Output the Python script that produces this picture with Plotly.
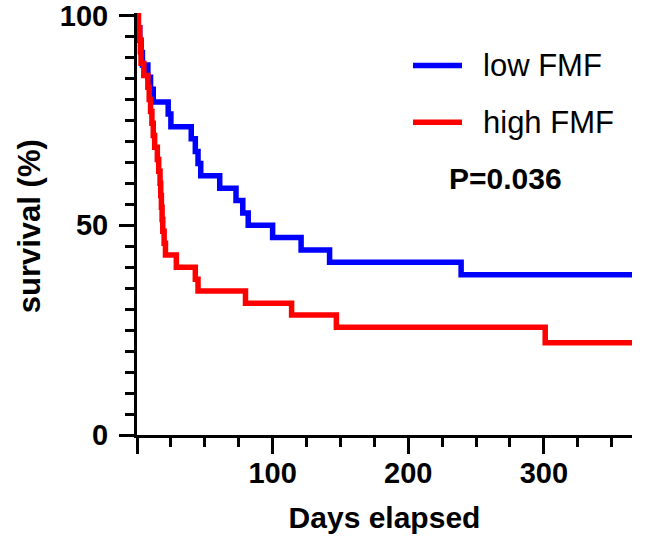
import plotly.graph_objects as go

# ---- data ----
days_low = [1, 2, 3, 4, 8, 10, 12, 23, 25, 40, 43, 45, 47, 61, 73, 78, 82, 100, 121, 142, 239]
surv_low = [97.1, 94.1, 91.2, 88.2, 85.3, 82.4, 79.4, 76.5, 73.5, 70.6, 67.6, 64.7, 61.8,
            58.8, 55.9, 52.9, 50.0, 47.1, 44.1, 41.2, 38.2]

days_high = [1, 2, 2.5, 3, 5, 8, 9, 10, 11, 12, 13, 15, 16, 17, 17.5, 18, 18.5, 19, 20, 21,
             29, 43, 45, 80, 114, 147, 301]
surv_high = [97.1, 94.3, 91.4, 88.6, 85.7, 82.9, 80.0, 77.1, 74.3, 71.4, 68.6, 65.7, 62.9,
             60.0, 57.1, 54.3, 51.4, 48.6, 45.7, 42.9, 40.0, 37.1, 34.3, 31.4, 28.6, 25.7, 22.0]

follow_up_end = 365
series_names = ["low FMF", "high FMF"]
p_text = "P=0.036"
x_title = "Days elapsed"
y_title = "survival (%)"
x_tickvals = [0, 100, 200, 300]
x_ticktext = ["", "100", "200", "300"]
y_tickvals = [0, 50, 100]

# ---- layout geometry (page body margin removed via post_script) ----
W, H = 645, 548
L, R, T, B = 137, 13, 12.5, 113
PW, PH = W - L - R, H - T - B
X0_PX, Y0_PX = L, H - B


def px_x(X):
    return (X - X0_PX) / PW


def px_y(Y):
    return (Y0_PX - Y) / PH


FONT = "Liberation Sans, Arial, Helvetica, sans-serif"
BLUE = "#0000FF"
RED = "#FF0000"

fig = go.Figure()

for name, days, surv, col in [
    (series_names[0], days_low, surv_low, BLUE),
    (series_names[1], days_high, surv_high, RED),
]:
    xs = [0] + days + [follow_up_end]
    ys = [100] + surv + [surv[-1]]
    fig.add_trace(go.Scatter(
        x=xs, y=ys, mode="lines", name=name,
        line=dict(color=col, width=5.5, shape="hv"),
        showlegend=False,
    ))

axis_common = dict(
    showgrid=False, zeroline=False, showline=True, linecolor="black", linewidth=3,
    ticks="outside", tickcolor="black", tickwidth=3, automargin=False,
    ticklabeloverflow="allow",
    tickfont=dict(family=FONT, size=29, color="black", weight="bold"),
)

fig.update_xaxes(
    range=[0, follow_up_end], tickmode="array", tickvals=x_tickvals, ticktext=x_ticktext,
    ticklen=16, ticklabelstandoff=-6,
    minor=dict(dtick=25, tick0=0, ticks="outside", ticklen=9, tickwidth=3, tickcolor="black"),
    title=dict(text=x_title, font=dict(family=FONT, size=30, color="black", weight="bold"),
               standoff=20),
    **axis_common,
)
fig.update_yaxes(
    range=[0, 100.6], tickmode="array", tickvals=y_tickvals,
    ticklen=15, ticklabelstandoff=5,
    minor=dict(dtick=5, tick0=0, ticks="outside", ticklen=9, tickwidth=3, tickcolor="black"),
    **axis_common,
)

# y-axis title
fig.add_annotation(xref="paper", yref="paper", x=px_x(29), y=px_y(226),
                   xanchor="center", yanchor="middle", showarrow=False, text=y_title,
                   textangle=-90,
                   font=dict(family=FONT, size=31, color="black", weight="bold"))

# custom legend
legend_rows = [(series_names[0], BLUE, 65), (series_names[1], RED, 122)]
for label, col, ypx in legend_rows:
    fig.add_shape(type="line", xref="paper", yref="paper",
                  x0=px_x(413), x1=px_x(462), y0=px_y(ypx), y1=px_y(ypx),
                  line=dict(color=col, width=5.5))
    fig.add_annotation(xref="paper", yref="paper", x=px_x(481), y=px_y(ypx),
                       xanchor="left", yanchor="middle", showarrow=False, text=label,
                       font=dict(family=FONT, size=31, color="black"))

fig.add_annotation(xref="paper", yref="paper", x=px_x(447), y=px_y(178),
                   xanchor="left", yanchor="middle", showarrow=False, text=p_text,
                   font=dict(family=FONT, size=30, color="black", weight="bold"))

fig.update_layout(
    width=W, height=H, autosize=False,
    margin=dict(l=L, r=R, t=T, b=B, pad=0),
    paper_bgcolor="white", plot_bgcolor="white",
    font=dict(family=FONT),
)

fig.write_html("out.html", config={"displayModeBar": False},
               post_script="document.body.style.margin='0';")
